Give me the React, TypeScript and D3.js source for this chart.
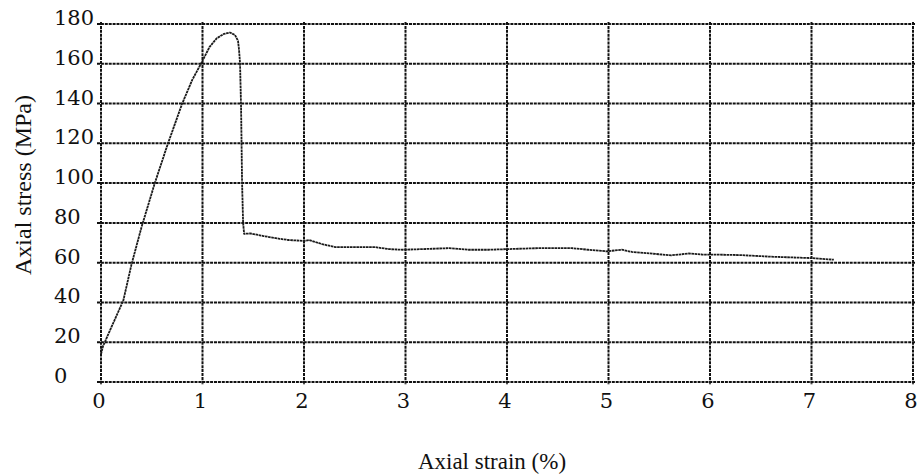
import React, { useEffect, useRef } from 'react'
import * as d3 from 'd3'

// axial strain (%) and axial stress (MPa)
const strainPct = [
  0.0, 0.02, 0.08, 0.15, 0.22, 0.3, 0.4, 0.53, 0.66, 0.8, 0.9, 0.99, 1.07, 1.14, 1.21, 1.27,
  1.32, 1.35, 1.36, 1.37, 1.38, 1.39, 1.4, 1.41, 1.47, 1.6, 1.76, 1.85, 2.0, 2.05, 2.18, 2.31,
  2.7, 2.84, 2.97, 3.16, 3.43, 3.62, 3.82, 4.0, 4.31, 4.64, 4.8, 4.98, 5.13, 5.23, 5.46, 5.62,
  5.79, 5.92, 6.1, 6.3, 6.6, 7.0, 7.22,
]
const stressMPa = [
  14, 18, 25, 33, 41, 59, 78, 100, 120, 140, 152, 160.5, 168.5, 172.8, 175, 175.7,
  174.5, 171.5, 167, 160, 138, 100, 80, 74.5, 74.7, 73.4, 72, 71.4, 70.9, 71.4, 69.3, 67.8,
  67.8, 66.8, 66.5, 66.8, 67.3, 66.5, 66.5, 66.8, 67.3, 67.3, 66.5, 65.7, 66.5, 65.4, 64.4, 63.7,
  64.6, 64.1, 64.0, 63.8, 63.0, 62.3, 61.5,
]
const xTicks = [0, 1, 2, 3, 4, 5, 6, 7, 8]
const yTicks = [0, 20, 40, 60, 80, 100, 120, 140, 160, 180]

const W = 923
const H = 476
const FONT = '"Liberation Serif", "Times New Roman", serif'
const TICK_FONT = '"DejaVu Serif", serif'

export default function App() {
  const ref = useRef<SVGSVGElement>(null)

  useEffect(() => {
    const svg = d3.select(ref.current)
    svg.selectAll('*').remove()

    const x = d3.scaleLinear().domain([0, 8]).range([101, 913])
    const y = d3.scaleLinear().domain([0, 180]).range([382, 24])

    const grid = svg.append('g')
      .attr('stroke', '#111')
      .attr('stroke-width', 2)
      .attr('stroke-dasharray', '3 0.9')
      .attr('fill', 'none')

    grid.selectAll('line.h')
      .data(yTicks)
      .enter()
      .append('line')
      .attr('class', 'h')
      .attr('x1', x(0) - 4)
      .attr('x2', x(8) + 2)
      .attr('y1', d => y(d))
      .attr('y2', d => y(d))

    grid.selectAll('line.v')
      .data(xTicks)
      .enter()
      .append('line')
      .attr('class', 'v')
      .attr('x1', d => x(d))
      .attr('x2', d => x(d))
      .attr('y1', y(180) - 2)
      .attr('y2', y(0) + 3)

    const line = d3.line<number>()
      .x((_, i) => x(strainPct[i]))
      .y(d => y(d))
      .curve(d3.curveLinear)

    svg.append('path')
      .datum(stressMPa)
      .attr('d', line)
      .attr('fill', 'none')
      .attr('stroke', '#1a1a1a')
      .attr('stroke-width', 1.8)
      .attr('stroke-dasharray', '2.6 0.6')
      .attr('stroke-linejoin', 'round')

    svg.append('g')
      .selectAll('text')
      .data(yTicks)
      .enter()
      .append('text')
      .attr('x', 54)
      .attr('y', d => y(d) + 1)
      .attr('font-family', TICK_FONT)
      .attr('font-size', 21)
      .attr('fill', '#111')
      .text(d => d)

    svg.append('g')
      .selectAll('text')
      .data(xTicks)
      .enter()
      .append('text')
      .attr('x', d => x(d) - 2)
      .attr('y', y(0) + 26)
      .attr('text-anchor', 'middle')
      .attr('font-family', TICK_FONT)
      .attr('font-size', 21)
      .attr('fill', '#111')
      .text(d => d)

    svg.append('text')
      .attr('x', 492)
      .attr('y', 469)
      .attr('text-anchor', 'middle')
      .attr('font-family', FONT)
      .attr('font-size', 23)
      .attr('fill', '#111')
      .text('Axial strain (%)')

    svg.append('text')
      .attr('transform', 'translate(31, 185) rotate(-90)')
      .attr('text-anchor', 'middle')
      .attr('font-family', FONT)
      .attr('font-size', 24)
      .attr('fill', '#111')
      .text('Axial stress (MPa)')
  }, [])

  return (
    <svg
      ref={ref}
      width={W}
      height={H}
      style={{ position: 'absolute', left: 0, top: 0, background: '#fff' }}
    />
  )
}
